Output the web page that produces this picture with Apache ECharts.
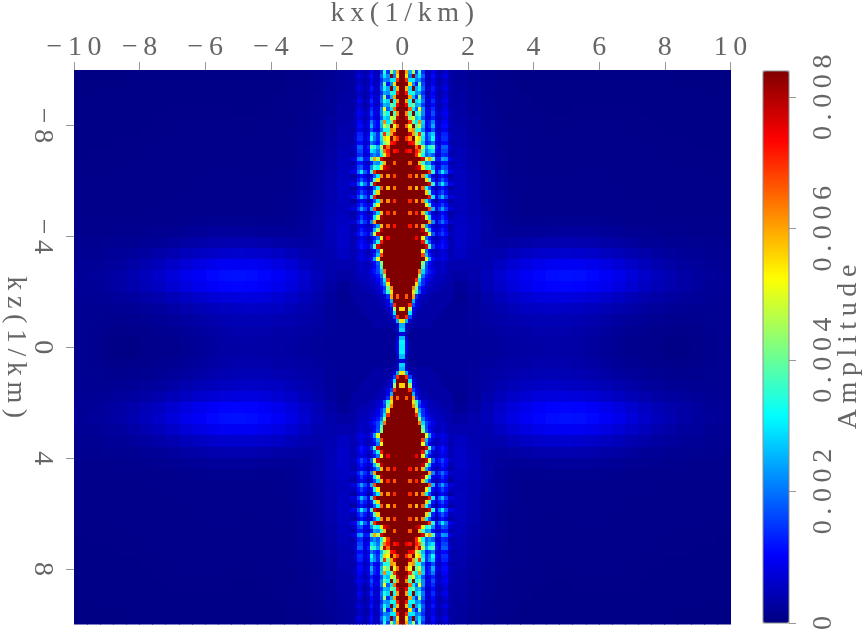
<!DOCTYPE html>
<html>
<head>
<meta charset="utf-8">
<style>html,body{margin:0;padding:0;background:#fff}#chart{width:864px;height:630px}</style>
<script src="https://cdn.jsdelivr.net/npm/echarts@6/dist/echarts.min.js"></script>
</head>
<body>
<div id="chart"></div>
<script>
// Amplitude spectrum in units of 1e-4, one quadrant; the field is symmetric in kx and kz.
const ampUnit = 1e-4;
const ampMax = 0.0084;
const kxTicks = [-10, -8, -6, -4, -2, 0, 2, 4, 6, 8, 10];
const kzTicks = [-8, -4, 0, 4, 8];
const ampTicks = [0, 0.002, 0.004, 0.006, 0.008];
const jetColors = ['#000080', '#0000ff', '#0080ff', '#00ffff', '#80ff80', '#ffff00', '#ff8000', '#ff0000', '#800000'];

// Core strip: kx 0..1.6 in steps of 0.1; rows centred on kz 0.05, 0.20, 0.35 ... 9.95
const coreColEdges = [0, 0.1, 0.2, 0.3, 0.4, 0.5, 0.6, 0.7, 0.8, 0.9, 1.0, 1.1, 1.2, 1.3, 1.4, 1.5, 1.6];
const coreRowStep = 0.15;
const coreRows = [
  [30, 8, 3, 2, 2, 2, 2, 2, 2, 2, 2, 2, 2, 2, 2, 2],
  [31, 8, 3, 2, 2, 2, 2, 2, 2, 2, 2, 2, 2, 2, 2, 2],
  [26, 6, 2, 2, 2, 2, 2, 2, 2, 2, 2, 2, 2, 2, 2, 2],
  [8, 3, 2, 2, 2, 2, 2, 2, 2, 2, 2, 2, 2, 2, 2, 2],
  [28, 6, 3, 2, 2, 2, 2, 2, 2, 2, 2, 2, 2, 2, 2, 2],
  [25, 6, 3, 3, 3, 3, 3, 3, 3, 2, 2, 2, 2, 2, 2, 2],
  [55, 25, 6, 4, 3, 3, 3, 3, 3, 3, 2, 2, 2, 2, 2, 2],
  [84, 70, 16, 5, 3, 3, 3, 3, 3, 3, 3, 2, 2, 2, 2, 2],
  [84, 84, 30, 8, 4, 3, 3, 3, 3, 3, 3, 3, 2, 2, 2, 2],
  [56, 84, 45, 10, 5, 4, 3, 3, 3, 3, 3, 3, 3, 2, 2, 2],
  [84, 84, 70, 16, 8, 5, 4, 3, 3, 3, 3, 3, 3, 3, 2, 2],
  [84, 84, 84, 25, 8, 5, 4, 4, 3, 3, 3, 3, 3, 3, 3, 2],
  [84, 66, 84, 60, 14, 6, 5, 4, 4, 3, 3, 3, 3, 3, 3, 3],
  [84, 84, 84, 55, 35, 18, 8, 6, 5, 4, 4, 3, 3, 3, 3, 3],
  [84, 84, 84, 62, 40, 15, 10, 6, 5, 5, 4, 4, 4, 3, 3, 3],
  [84, 84, 84, 84, 55, 24, 14, 8, 6, 5, 5, 4, 4, 4, 3, 3],
  [84, 84, 84, 84, 70, 30, 14, 10, 7, 6, 5, 5, 5, 4, 4, 3],
  [84, 84, 84, 84, 84, 44, 20, 12, 9, 7, 5, 5, 5, 4, 4, 3],
  [84, 84, 84, 84, 84, 64, 28, 16, 12, 9, 6, 5, 6, 5, 4, 3],
  [84, 84, 84, 84, 84, 84, 38, 16, 10, 7, 5, 5, 6, 5, 4, 4],
  [84, 84, 84, 84, 84, 84, 42, 18, 11, 6, 5, 5, 6, 5, 4, 4],
  [84, 84, 84, 84, 84, 84, 84, 50, 24, 11, 6, 7, 9, 7, 5, 4],
  [84, 84, 84, 84, 84, 84, 68, 26, 13, 7, 5, 6, 8, 7, 5, 4],
  [84, 84, 84, 84, 84, 84, 52, 20, 10, 6, 4, 6, 8, 6, 4, 4],
  [84, 84, 84, 84, 84, 84, 84, 76, 38, 15, 7, 10, 12, 9, 5, 4],
  [84, 84, 84, 84, 84, 84, 72, 34, 18, 8, 5, 8, 11, 8, 5, 4],
  [84, 84, 84, 84, 74, 84, 54, 20, 12, 6, 4, 7, 9, 7, 4, 4],
  [84, 84, 84, 84, 84, 84, 84, 78, 48, 18, 8, 12, 16, 11, 6, 5],
  [84, 84, 84, 84, 84, 84, 78, 44, 26, 10, 6, 9, 13, 9, 4, 4],
  [84, 84, 72, 84, 66, 84, 58, 24, 14, 7, 4, 7, 10, 7, 3, 4],
  [84, 84, 84, 84, 84, 84, 84, 84, 60, 22, 8, 14, 20, 13, 6, 7],
  [84, 84, 84, 84, 84, 84, 80, 48, 30, 10, 6, 10, 15, 10, 4, 4],
  [84, 84, 66, 84, 70, 84, 58, 28, 16, 7, 3, 7, 11, 7, 3, 3],
  [84, 84, 84, 84, 84, 84, 84, 84, 68, 26, 9, 16, 24, 15, 7, 8],
  [84, 84, 84, 84, 84, 84, 84, 54, 34, 11, 6, 11, 16, 11, 5, 5],
  [84, 84, 70, 84, 62, 84, 62, 30, 17, 7, 3, 8, 11, 7, 3, 3],
  [84, 84, 84, 84, 84, 84, 84, 84, 72, 30, 10, 18, 26, 16, 7, 8],
  [84, 84, 84, 84, 84, 84, 84, 56, 36, 12, 6, 12, 17, 11, 5, 5],
  [84, 84, 64, 84, 58, 84, 66, 32, 18, 7, 3, 8, 12, 8, 3, 3],
  [84, 84, 84, 84, 84, 84, 84, 84, 76, 34, 11, 20, 30, 18, 8, 9],
  [84, 84, 84, 84, 84, 84, 84, 56, 38, 13, 6, 12, 18, 12, 5, 5],
  [84, 84, 68, 84, 62, 84, 62, 30, 18, 8, 3, 8, 12, 8, 3, 3],
  [84, 84, 84, 84, 84, 84, 84, 82, 70, 34, 11, 18, 30, 20, 9, 8],
  [84, 84, 84, 84, 80, 76, 54, 32, 36, 22, 8, 10, 18, 16, 7, 5],
  [84, 84, 66, 84, 84, 58, 36, 22, 24, 12, 5, 7, 12, 12, 5, 3],
  [84, 84, 84, 84, 84, 84, 76, 46, 60, 38, 13, 12, 24, 22, 9, 7],
  [84, 84, 84, 84, 70, 54, 32, 18, 22, 18, 7, 7, 14, 13, 5, 3],
  [84, 75, 72, 84, 72, 64, 38, 20, 26, 30, 10, 8, 16, 16, 6, 4],
  [84, 84, 84, 84, 65, 78, 46, 24, 34, 38, 13, 8, 18, 18, 7, 5],
  [84, 84, 74, 72, 48, 42, 26, 12, 15, 20, 8, 6, 11, 11, 5, 3],
  [84, 70, 62, 84, 52, 56, 30, 14, 20, 32, 11, 7, 14, 14, 6, 4],
  [84, 84, 78, 60, 40, 70, 34, 14, 22, 28, 10, 6, 13, 13, 6, 4],
  [84, 84, 58, 62, 34, 34, 20, 8, 10, 17, 7, 5, 9, 9, 4, 3],
  [84, 65, 50, 84, 40, 48, 26, 10, 13, 25, 9, 6, 11, 11, 5, 4],
  [84, 84, 70, 40, 30, 62, 28, 10, 13, 21, 8, 5, 10, 10, 5, 4],
  [84, 78, 44, 50, 26, 30, 17, 7, 8, 13, 6, 4, 7, 8, 4, 3],
  [84, 62, 38, 84, 32, 40, 22, 8, 9, 17, 8, 5, 9, 10, 5, 3],
  [84, 84, 65, 30, 18, 52, 22, 8, 8, 14, 6, 4, 7, 8, 4, 3],
  [84, 74, 36, 40, 24, 26, 15, 6, 6, 11, 5, 3, 6, 7, 3, 3],
  [84, 60, 32, 84, 28, 34, 20, 7, 7, 14, 7, 4, 8, 9, 4, 3],
  [84, 84, 60, 26, 14, 44, 18, 7, 6, 11, 5, 3, 6, 7, 3, 3],
  [84, 72, 32, 34, 22, 24, 14, 5, 5, 10, 5, 3, 5, 6, 3, 3],
  [84, 58, 28, 84, 24, 32, 18, 6, 6, 12, 6, 4, 7, 8, 4, 3],
  [84, 84, 55, 22, 12, 40, 16, 6, 5, 9, 5, 3, 6, 6, 3, 3],
  [84, 70, 30, 30, 20, 22, 14, 5, 5, 9, 5, 3, 5, 6, 3, 3],
  [84, 55, 20, 84, 22, 30, 18, 6, 5, 11, 6, 4, 7, 8, 4, 3],
  [84, 60, 25, 45, 15, 35, 14, 5, 4, 9, 5, 3, 5, 6, 3, 3]
];

// Background: kx 1.6..10 in steps of 0.4; rows cover kz 0..10 in steps of 0.4
const outerColStep = 0.4;
const outerColStart = 1.6;
const outerRowStep = 0.4;
const outerRows = [
  [2, 2, 2.2, 2.5, 2.8, 3, 3.2, 3.3, 3.2, 3, 2.6, 2, 1.5, 1.2, 1, 0.8, 0.5, 0.6, 0.9, 1.2, 1.4],
  [2, 2.2, 2.5, 2.9, 3.2, 3.4, 3.6, 3.7, 3.6, 3.4, 3, 2.5, 2, 1.6, 1.3, 1, 0.8, 0.9, 1.1, 1.3, 1.5],
  [2, 2.4, 3, 3.4, 3.8, 4.1, 4.3, 4.4, 4.3, 4.1, 3.7, 3.2, 2.7, 2.2, 1.8, 1.5, 1.3, 1.2, 1.3, 1.4, 1.5],
  [1.8, 2.4, 3.2, 4, 4.7, 5.3, 5.7, 5.8, 5.7, 5.4, 5, 4.4, 3.8, 3.2, 2.6, 2.2, 1.9, 1.7, 1.6, 1.6, 1.6],
  [1.6, 2.6, 3.7, 4.9, 6, 6.9, 7.5, 7.8, 7.8, 7.5, 7, 6.3, 5.5, 4.7, 3.9, 3.2, 2.7, 2.3, 2, 1.8, 1.7],
  [2, 3, 4.5, 6, 7.6, 9, 10, 10.6, 10.8, 10.6, 10, 9, 7.9, 6.7, 5.5, 4.5, 3.7, 3, 2.5, 2.1, 1.8],
  [3, 3.6, 4.8, 6.5, 8.3, 9.8, 10.8, 11.4, 11.7, 11.6, 11, 10, 8.9, 7.5, 6.1, 5, 4, 3.2, 2.6, 2.2, 1.9],
  [4, 3.8, 4.2, 5.5, 7, 8.2, 9, 9.4, 9.6, 9.5, 9, 8.2, 7.2, 6, 5, 4, 3.2, 2.6, 2.2, 1.9, 1.7],
  [5.5, 4.2, 3.6, 4, 4.8, 5.6, 6.1, 6.4, 6.5, 6.4, 6, 5.4, 4.8, 4, 3.3, 2.7, 2.3, 2, 1.8, 1.6, 1.5],
  [6, 4.5, 3.2, 2.8, 3, 3.4, 3.7, 3.9, 4, 3.9, 3.7, 3.3, 2.9, 2.5, 2.1, 1.8, 1.6, 1.5, 1.4, 1.3, 1.3],
  [6, 4.6, 3, 2.2, 2, 2, 2.1, 2.2, 2.3, 2.3, 2.2, 2, 1.8, 1.6, 1.4, 1.3, 1.2, 1.2, 1.1, 1.1, 1.1],
  [5.5, 4.5, 3, 2, 1.5, 1.3, 1.3, 1.4, 1.4, 1.4, 1.4, 1.3, 1.2, 1.1, 1, 1, 1, 1, 1, 1, 1],
  [5, 4.2, 2.8, 1.9, 1.3, 1.1, 1.1, 1.1, 1.1, 1.1, 1.1, 1.1, 1, 1, 1, 0.9, 0.9, 0.9, 0.9, 0.9, 0.9],
  [5.2, 4, 2.6, 1.8, 1.3, 1, 1, 1, 1, 1, 1, 1, 1, 0.9, 0.9, 0.9, 0.9, 0.8, 0.8, 0.8, 0.8],
  [5.4, 3.8, 2.5, 1.7, 1.2, 1, 1, 1, 1, 1, 1, 1, 0.9, 0.9, 0.9, 0.8, 0.8, 0.8, 0.8, 0.8, 0.8],
  [5.2, 3.6, 2.3, 1.6, 1.2, 1, 0.9, 0.9, 0.9, 1, 1, 0.9, 0.9, 0.9, 0.8, 0.8, 0.8, 0.8, 0.7, 0.7, 0.7],
  [5, 3.3, 2.2, 1.5, 1.1, 0.9, 0.9, 0.9, 0.9, 0.9, 0.9, 0.9, 0.9, 0.8, 0.8, 0.8, 0.7, 0.7, 0.7, 0.7, 0.7],
  [4.5, 3, 2, 1.4, 1.1, 0.9, 0.8, 0.8, 0.8, 0.9, 0.9, 0.9, 0.8, 0.8, 0.8, 0.7, 0.7, 0.7, 0.7, 0.7, 0.6],
  [4, 2.8, 1.9, 1.3, 1, 0.8, 0.8, 0.8, 0.8, 0.8, 0.8, 0.8, 0.8, 0.8, 0.7, 0.7, 0.7, 0.7, 0.6, 0.6, 0.6],
  [3.6, 2.5, 1.7, 1.2, 1, 0.8, 0.7, 0.7, 0.7, 0.8, 0.8, 0.8, 0.8, 0.7, 0.7, 0.7, 0.6, 0.6, 0.6, 0.6, 0.6],
  [3.2, 2.3, 1.6, 1.2, 0.9, 0.8, 0.7, 0.7, 0.7, 0.7, 0.7, 0.7, 0.7, 0.7, 0.7, 0.6, 0.6, 0.6, 0.6, 0.6, 0.5],
  [3, 2.1, 1.5, 1.1, 0.9, 0.7, 0.7, 0.6, 0.6, 0.7, 0.7, 0.7, 0.7, 0.7, 0.6, 0.6, 0.6, 0.6, 0.5, 0.5, 0.5],
  [2.8, 2, 1.4, 1, 0.8, 0.7, 0.6, 0.6, 0.6, 0.6, 0.6, 0.6, 0.6, 0.6, 0.6, 0.6, 0.5, 0.5, 0.5, 0.5, 0.5],
  [2.6, 1.8, 1.3, 1, 0.8, 0.6, 0.6, 0.5, 0.5, 0.6, 0.6, 0.6, 0.6, 0.6, 0.5, 0.5, 0.5, 0.5, 0.5, 0.5, 0.4],
  [2.4, 1.7, 1.2, 0.9, 0.7, 0.6, 0.5, 0.5, 0.5, 0.5, 0.5, 0.5, 0.5, 0.5, 0.5, 0.5, 0.5, 0.4, 0.4, 0.4, 0.4]
];

const axisFont = 'Liberation Serif';
const textGray = '#666';
const tickGray = '#999';
const spaced = s => Array.from(String(s)).join('\u2009');
const signedLabel = v => spaced(String(v).replace('-', '\u2212'));

// Expand the quadrant tables into mirrored cells: [kx0, kx1, kz0, kz1, amplitude]
const cells = [];
function addCell(a, b, c, d, units) {
  const amp = Math.min(units * ampUnit, ampMax);
  for (const sx of [-1, 1]) {
    for (const sz of [-1, 1]) {
      cells.push([sx * a, sx * b, sz * c, sz * d, amp]);
    }
  }
}
coreRows.forEach((row, r) => {
  const z0 = r === 0 ? 0 : 0.05 + coreRowStep * r - coreRowStep / 2;
  const z1 = Math.min(10, 0.05 + coreRowStep * r + coreRowStep / 2);
  row.forEach((units, c) => addCell(coreColEdges[c], coreColEdges[c + 1], z0, z1, units));
});
outerRows.forEach((row, r) => {
  row.forEach((units, c) => addCell(
    outerColStart + outerColStep * c, outerColStart + outerColStep * (c + 1),
    outerRowStep * r, outerRowStep * (r + 1), units));
});

const chart = echarts.init(document.getElementById('chart'), null, { renderer: 'canvas' });
const tickLabelStyle = { color: textGray, fontFamily: axisFont, fontSize: 28 };
chart.setOption({
  animation: false,
  backgroundColor: '#fff',
  grid: [
    { left: 74, top: 70, width: 656.5, height: 554.5, outerBoundsMode: 'none' },
    { left: 763, top: 71, width: 26, height: 552, outerBoundsMode: 'none', show: true, z: 6, borderColor: '#8c8c8c', borderWidth: 1, backgroundColor: 'transparent' }
  ],
  xAxis: [
    {
      type: 'value', gridIndex: 0, position: 'top', min: -10, max: 10, interval: 2, z: 8,
      name: spaced('kx(1/km)'), nameLocation: 'middle', nameGap: 42,
      nameTextStyle: tickLabelStyle,
      axisLine: { show: false, onZero: false }, splitLine: { show: false },
      axisTick: { show: true, length: 8, customValues: kxTicks, lineStyle: { color: tickGray, width: 1 } },
      axisLabel: { ...tickLabelStyle, margin: 8, customValues: kxTicks, formatter: signedLabel }
    },
    { type: 'value', gridIndex: 1, min: 0, max: 1, show: false }
  ],
  yAxis: [
    {
      type: 'value', gridIndex: 0, inverse: true, position: 'left', min: -10, max: 10, z: 8,
      name: spaced('kz(1/km)'), nameLocation: 'middle', nameGap: 45, nameRotate: -90, nameMoveOverlap: false,
      nameTextStyle: tickLabelStyle,
      axisLine: { show: false, onZero: false }, splitLine: { show: false },
      axisTick: { show: true, length: 8, customValues: kzTicks, lineStyle: { color: tickGray, width: 1 } },
      axisLabel: { ...tickLabelStyle, rotate: -90, margin: 18, customValues: kzTicks, formatter: signedLabel }
    },
    {
      type: 'value', gridIndex: 1, position: 'right', min: 0, max: ampMax, z: 8,
      name: spaced('Amplitude'), nameLocation: 'middle', nameGap: 46, nameRotate: 90, nameMoveOverlap: false,
      nameTextStyle: tickLabelStyle,
      axisLine: { show: false, onZero: false }, splitLine: { show: false },
      axisTick: { show: true, length: 7, customValues: ampTicks, lineStyle: { color: tickGray, width: 1 } },
      axisLabel: { ...tickLabelStyle, rotate: 90, margin: 21, customValues: ampTicks, formatter: v => spaced(v === 0 ? '0' : v.toFixed(3)) }
    }
  ],
  visualMap: {
    type: 'continuous', seriesIndex: 0, dimension: 4, min: 0, max: ampMax,
    orient: 'vertical', left: 763, top: 71, itemWidth: 26, itemHeight: 552,
    calculable: false, realtime: false, text: null, showLabel: false, padding: 0,
    inRange: { color: jetColors }
  },
  series: [{
    type: 'custom',
    coordinateSystem: 'cartesian2d',
    xAxisIndex: 0, yAxisIndex: 0,
    progressive: 0,
    clip: true,
    silent: true,
    encode: { x: [0, 1], y: [2, 3] },
    data: cells,
    renderItem(params, api) {
      const p0 = api.coord([api.value(0), api.value(2)]);
      const p1 = api.coord([api.value(1), api.value(3)]);
      const x = Math.floor(Math.min(p0[0], p1[0]));
      const y = Math.floor(Math.min(p0[1], p1[1]));
      return {
        type: 'rect',
        shape: { x, y, width: Math.ceil(Math.max(p0[0], p1[0])) - x, height: Math.ceil(Math.max(p0[1], p1[1])) - y },
        style: { fill: api.visual('color') }
      };
    }
  }]
});
</script>
</body>
</html>
